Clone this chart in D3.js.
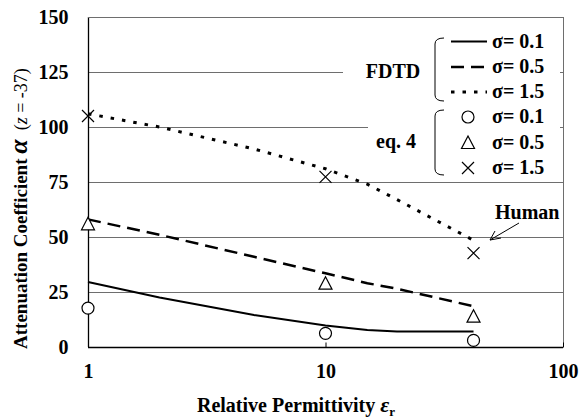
<!DOCTYPE html>
<html>
<head>
<meta charset="utf-8">
<script src="https://cdn.jsdelivr.net/npm/d3@7"></script>
<style>
  body { margin: 0; background: #fff; }
  text { font-family: "Liberation Serif", "Times New Roman", serif; }
</style>
</head>
<body>
<div id="chart"></div>
<script>
// data
var epsFDTD = [1, 2, 5, 10, 15, 20, 42];
var fdtd01 = [29.5, 22.5, 14.5, 9.8, 7.7, 7.1, 7.1];
var fdtd05 = [58, 51, 41, 33.5, 29, 26.5, 18.5];
var fdtd15 = [106, 100, 90, 81, 74, 67, 48.5];

var epsEq = [1, 10, 42];
var eq01 = [17.7, 6.2, 3];
var eq05 = [56, 29, 14];
var eq15 = [105, 77.3, 42.7];

var xTicks = [1, 10, 100];
var yTicks = [0, 25, 50, 75, 100, 125, 150];
var sigmaLabels = ["\u03c3= 0.1", "\u03c3= 0.5", "\u03c3= 1.5"];

var svgWidth = 579;
var svgHeight = 418;
var margin = { top: 17, right: 16, bottom: 71, left: 88 };
var width = svgWidth - margin.left - margin.right;
var height = svgHeight - margin.top - margin.bottom;

var svg = d3.select("#chart")
  .append("svg")
  .attr("width", svgWidth)
  .attr("height", svgHeight);

var chartGroup = svg.append("g")
  .attr("transform", `translate(${margin.left}, ${margin.top})`);

var x = d3.scaleLog().domain([1, 100]).range([0, width]);
var y = d3.scaleLinear().domain([0, 150]).range([height, 0]);

// gridlines + frame (gray)
chartGroup.selectAll(".grid")
  .data(yTicks.filter(function(d) { return d > 0; }))
  .enter().append("line")
  .attr("x1", 0).attr("x2", width)
  .attr("y1", function(d) { return y(d) + 0.5; })
  .attr("y2", function(d) { return y(d) + 0.5; })
  .attr("stroke", "#6e6e6e")
  .attr("stroke-width", 1);

chartGroup.append("line")
  .attr("x1", width + 0.5).attr("x2", width + 0.5).attr("y1", 0).attr("y2", height)
  .attr("stroke", "#6e6e6e");

// white area behind legend
chartGroup.append("rect")
  .attr("x", 343 - margin.left).attr("y", 1.5)
  .attr("width", 560 - 343).attr("height", 88 - margin.top)
  .attr("fill", "#fff");
chartGroup.append("rect")
  .attr("x", 368 - margin.left).attr("y", 88 - margin.top)
  .attr("width", 560 - 368).attr("height", 181 - 88)
  .attr("fill", "#fff");

// axes
var bottomAxis = d3.axisBottom(x).tickValues(xTicks)
  .tickFormat(d3.format("d")).tickSize(-5).tickPadding(16);
var leftAxis = d3.axisLeft(y).tickValues(yTicks).tickSize(0).tickPadding(20);

var xg = chartGroup.append("g")
  .attr("transform", `translate(0, ${height + 0.5})`)
  .call(bottomAxis);
var yg = chartGroup.append("g")
  .attr("transform", "translate(0.5, 0)")
  .call(leftAxis);

[xg, yg].forEach(function(g) {
  g.select(".domain").attr("stroke", "#000").attr("stroke-width", 1.3);
  g.selectAll(".tick line").attr("stroke", "#000");
  g.selectAll("text")
    .attr("font-family", "Liberation Serif")
    .attr("font-weight", "bold")
    .attr("font-size", 20)
    .attr("fill", "#000");
});
yg.select(".domain").attr("d", `M0,0V${height}`);
xg.select(".domain").attr("d", `M0,0H${width}`);

// top border
chartGroup.append("line")
  .attr("x1", 0).attr("x2", width).attr("y1", 0.5).attr("y2", 0.5)
  .attr("stroke", "#6e6e6e");

// FDTD lines
var line = d3.line()
  .x(function(d) { return x(d[0]); })
  .y(function(d) { return y(d[1]); });

var lineStyles = [
  { vals: fdtd01, dash: null, w: 2 },
  { vals: fdtd05, dash: "13,7", w: 2.5 },
  { vals: fdtd15, dash: "3.5,8", w: 3 }
];

lineStyles.forEach(function(s) {
  chartGroup.append("path")
    .datum(d3.zip(epsFDTD, s.vals))
    .attr("d", line)
    .attr("fill", "none")
    .attr("stroke", "#000")
    .attr("stroke-width", s.w)
    .attr("stroke-dasharray", s.dash);
});

// eq. 4 markers
function drawMarker(g, kind, cx, cy) {
  if (kind === 0) {
    g.append("circle").attr("cx", cx).attr("cy", cy).attr("r", 6)
      .attr("fill", "#fff").attr("stroke", "#000").attr("stroke-width", 1.2);
  } else if (kind === 1) {
    g.append("path")
      .attr("d", `M${cx},${cy - 6.5}L${cx + 6.5},${cy + 6}L${cx - 6.5},${cy + 6}Z`)
      .attr("fill", "#fff").attr("stroke", "#000").attr("stroke-width", 1.2);
  } else {
    g.append("path")
      .attr("d", `M${cx - 6},${cy - 6}L${cx + 6},${cy + 6}M${cx - 6},${cy + 6}L${cx + 6},${cy - 6}`)
      .attr("stroke", "#000").attr("stroke-width", 1.2);
  }
}

[eq01, eq05, eq15].forEach(function(vals, k) {
  vals.forEach(function(v, i) {
    drawMarker(chartGroup, k, x(epsEq[i]), y(v));
  });
});

// legend (absolute coords)
var leg = svg.append("g");
var rowY = [47.5, 73, 98, 123, 148.5, 174];
var textX = 492;

function legendText(txt, xx, yy, anchor) {
  leg.append("text").attr("x", xx).attr("y", yy)
    .attr("font-size", 20).attr("font-weight", "bold")
    .attr("text-anchor", anchor || "start")
    .text(txt);
}

lineStyles.forEach(function(s, i) {
  leg.append("line")
    .attr("x1", 451).attr("x2", 487)
    .attr("y1", rowY[i] - 6).attr("y2", rowY[i] - 6)
    .attr("stroke", "#000").attr("stroke-width", s.w)
    .attr("stroke-dasharray", s.dash);
  legendText(sigmaLabels[i], textX, rowY[i]);
});
[0, 1, 2].forEach(function(k) {
  drawMarker(leg, k, 468, rowY[k + 3] - 6);
  legendText(sigmaLabels[k], textX, rowY[k + 3]);
});

legendText("FDTD", 393, 78, "middle");
legendText("eq. 4", 396, 148, "middle");

function bracket(y0, y1) {
  leg.append("path")
    .attr("d", `M444,${y0}Q435,${y0} 435,${y0 + 6}V${y1 - 6}Q435,${y1} 444,${y1}`)
    .attr("fill", "none").attr("stroke", "#000").attr("stroke-width", 1);
}
bracket(38, 101);
bracket(110, 175);

// Human annotation
legendText("Human", 495, 219);
svg.append("path")
  .attr("d", "M519,223L490,240M490,240L501,238M490,240L495,231")
  .attr("fill", "none").attr("stroke", "#000").attr("stroke-width", 1);

// axis titles
var xt = svg.append("text")
  .attr("x", 296).attr("y", 412)
  .attr("text-anchor", "middle")
  .attr("font-size", 20).attr("font-weight", "bold");
xt.append("tspan").text("Relative Permittivity ");
xt.append("tspan").attr("font-style", "italic").attr("font-size", 22).text("\u03b5");
xt.append("tspan").attr("font-size", 13).attr("dy", 4).text("r");

var yt = svg.append("text")
  .attr("transform", "translate(27, 349) rotate(-90)")
  .attr("text-anchor", "start")
  .attr("font-size", 19).attr("font-weight", "bold");
yt.append("tspan").text("Attenuation Coefficient ");
yt.append("tspan").attr("font-style", "italic").attr("font-size", 26).text("\u03b1");
yt.append("tspan").attr("font-weight", "normal").attr("font-size", 18).text("\u00a0\u00a0(");
yt.append("tspan").attr("font-weight", "normal").attr("font-style", "italic").attr("font-size", 18).text("z");
yt.append("tspan").attr("font-weight", "normal").attr("font-size", 18).text(" = -37)");
</script>
</body>
</html>
